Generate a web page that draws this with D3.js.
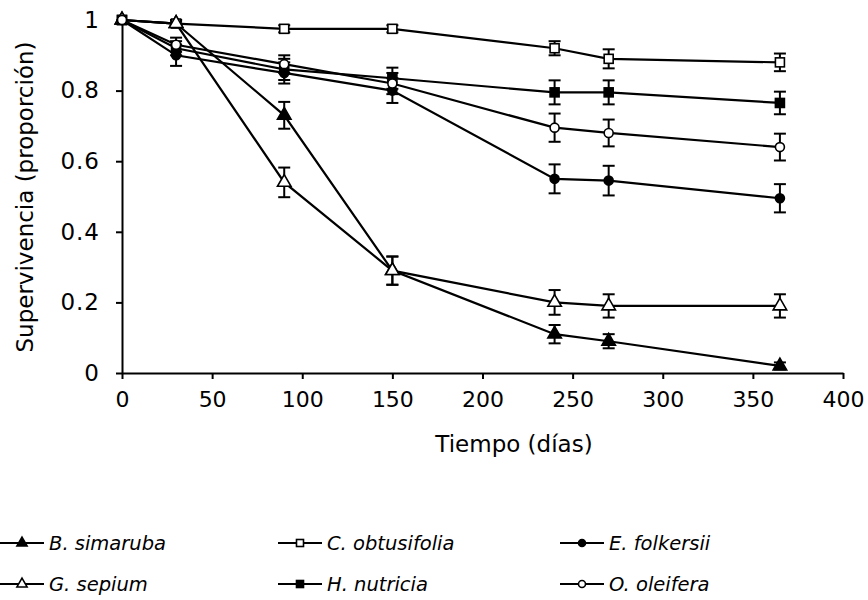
<!DOCTYPE html>
<html>
<head>
<meta charset="utf-8">
<script src="https://cdn.jsdelivr.net/npm/d3@7"></script>
<style>
  html, body { margin: 0; padding: 0; background: #fff; }
  svg { display: block; }
  text { font-family: "DejaVu Sans", Verdana, sans-serif; fill: #000; }
</style>
</head>
<body>
<svg id="chart" width="868" height="600"></svg>
<script>
// Sampling days
const days = [0, 30, 90, 150, 240, 270, 365];

// Survival proportion per species and its error (±)
const simaruba     = [1, 0.99, 0.73, 0.29, 0.11, 0.09, 0.02];
const simarubaErr  = [0, 0.01, 0.038, 0.04, 0.026, 0.02, 0.01];
const obtusifolia    = [1, 0.99, 0.975, 0.975, 0.92, 0.89, 0.88];
const obtusifoliaErr = [0, 0.005, 0.01, 0.01, 0.02, 0.027, 0.025];
const folkersii    = [1, 0.90, 0.85, 0.80, 0.55, 0.545, 0.495];
const folkersiiErr = [0, 0.03, 0.03, 0.035, 0.041, 0.042, 0.04];
const sepium    = [1, 0.99, 0.54, 0.29, 0.20, 0.19, 0.19];
const sepiumErr = [0, 0.01, 0.042, 0.04, 0.035, 0.033, 0.033];
const nutricia    = [1, 0.92, 0.86, 0.835, 0.795, 0.795, 0.765];
const nutriciaErr = [0, 0.02, 0.03, 0.03, 0.034, 0.034, 0.032];
const oleifera    = [1, 0.93, 0.875, 0.82, 0.695, 0.68, 0.64];
const oleiferaErr = [0, 0.02, 0.025, 0.03, 0.04, 0.038, 0.038];

const speciesNames = ["B. simaruba", "C. obtusifolia", "E. folkersii",
                      "G. sepium", "H. nutricia", "O. oleifera"];

const xTicks = [0, 50, 100, 150, 200, 250, 300, 350, 400];
const yTicks = [0, 0.2, 0.4, 0.6, 0.8, 1];
const xTitle = "Tiempo (días)";
const yTitle = "Supervivencia (proporción)";

const series = [
  { name: speciesNames[0], v: simaruba,    e: simarubaErr,    shape: "tri",    fill: true  },
  { name: speciesNames[1], v: obtusifolia, e: obtusifoliaErr, shape: "square", fill: false },
  { name: speciesNames[2], v: folkersii,   e: folkersiiErr,   shape: "circle", fill: true  },
  { name: speciesNames[3], v: sepium,      e: sepiumErr,      shape: "tri",    fill: false },
  { name: speciesNames[4], v: nutricia,    e: nutriciaErr,    shape: "square", fill: true  },
  { name: speciesNames[5], v: oleifera,    e: oleiferaErr,    shape: "circle", fill: false }
];

const svg = d3.select("#chart");
const x = d3.scaleLinear().domain([0, 400]).range([122, 843]);
const y = d3.scaleLinear().domain([0, 1]).range([373, 20]);

// Axes
const xAxis = svg.append("g").attr("transform", `translate(0,${y(0)})`)
  .call(d3.axisBottom(x).tickValues(xTicks).tickSize(6).tickSizeOuter(0).tickPadding(12).tickFormat(d3.format("d")));
const yAxis = svg.append("g").attr("transform", `translate(${x(0)},0)`)
  .call(d3.axisLeft(y).tickValues(yTicks).tickSize(6).tickSizeOuter(0).tickPadding(16)
        .tickFormat(d => d === 0 || d === 1 ? String(d) : d3.format(".1f")(d)));
[xAxis, yAxis].forEach(g => {
  g.select(".domain").attr("stroke", "#000").attr("stroke-width", 2);
  g.selectAll(".tick line").attr("stroke", "#000").attr("stroke-width", 2);
  g.selectAll(".tick text").style("font-size", "22px").attr("fill", "#000");
});
yAxis.selectAll(".tick text").style("font-size", "23px").style("letter-spacing", "1px");

// Axis titles
svg.append("text").attr("x", 514).attr("y", 452).attr("text-anchor", "middle")
  .style("font-size", "23px").text(xTitle);
svg.append("text").attr("transform", `translate(33,197) rotate(-90)`)
  .attr("text-anchor", "middle").style("font-size", "23px").text(yTitle);

// Marker drawing
function marker(g, shape, filled, cx, cy, s) {
  const fill = filled ? "#000" : "#fff";
  if (shape === "tri") {
    g.append("path")
      .attr("d", d3.symbol().type(d3.symbolTriangle).size(s * s * 0.55)())
      .attr("transform", `translate(${cx},${cy})`)
      .attr("fill", fill).attr("stroke", "#000").attr("stroke-width", 1.6);
  } else if (shape === "square") {
    g.append("rect").attr("x", cx - s / 2).attr("y", cy - s / 2)
      .attr("width", s).attr("height", s)
      .attr("fill", fill).attr("stroke", "#000").attr("stroke-width", 1.6);
  } else {
    g.append("circle").attr("cx", cx).attr("cy", cy).attr("r", s / 2)
      .attr("fill", fill).attr("stroke", "#000").attr("stroke-width", 1.6);
  }
}

const line = d3.line().x(d => x(d[0])).y(d => y(d[1]));
const plot = svg.append("g");

series.forEach(s => {
  const pts = days.map((d, i) => [d, s.v[i], s.e[i]]);
  plot.append("path").datum(pts).attr("d", line)
    .attr("fill", "none").attr("stroke", "#000").attr("stroke-width", 2.2);
  pts.forEach(p => {
    if (p[2] > 0) {
      const xc = x(p[0]), y1 = y(p[1] + p[2]), y2 = y(p[1] - p[2]);
      plot.append("line").attr("x1", xc).attr("x2", xc).attr("y1", y1).attr("y2", y2)
        .attr("stroke", "#000").attr("stroke-width", 2);
      [y1, y2].forEach(yy => plot.append("line")
        .attr("x1", xc - 6).attr("x2", xc + 6).attr("y1", yy).attr("y2", yy)
        .attr("stroke", "#000").attr("stroke-width", 2));
    }
  });
});
series.forEach(s => {
  days.forEach((d, i) => marker(plot, s.shape, s.fill, x(d), y(s.v[i]), s.shape === "tri" ? 12 : 9));
});

// Legend
const legCols = [0, 278, 560];
const legRows = [543, 584];
series.forEach((s, i) => {
  const lx = legCols[i % 3], ly = legRows[Math.floor(i / 3)];
  const g = svg.append("g");
  g.append("line").attr("x1", lx).attr("x2", lx + 44).attr("y1", ly).attr("y2", ly)
    .attr("stroke", "#000").attr("stroke-width", 2);
  marker(g, s.shape, s.fill, lx + 22, ly, s.shape === "tri" ? 9 : 7);
  g.append("text").attr("x", lx + 49).attr("y", ly + 7)
    .style("font-size", "19.5px").style("font-style", "italic").text(s.name);
});
</script>
</body>
</html>
